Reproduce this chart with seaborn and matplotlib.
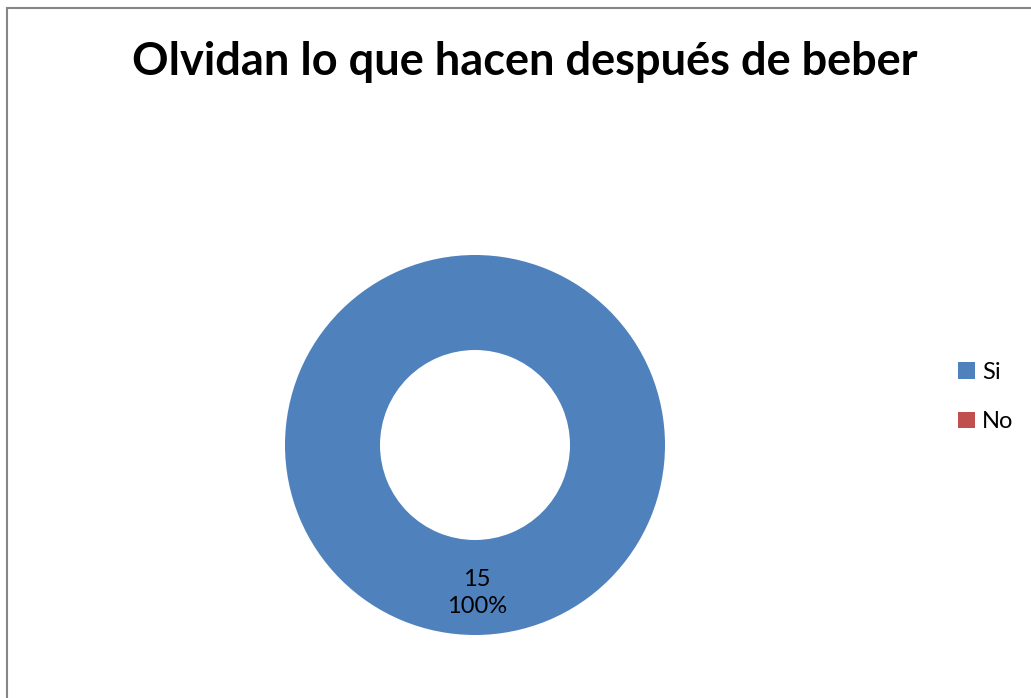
import matplotlib
matplotlib.use("Agg")
import matplotlib.pyplot as plt
import seaborn as sns
from matplotlib.patches import Rectangle

categories = ["Si", "No"]
values = [15, 0]
colors = ["#4F81BD", "#C0504D"]
title = "Olvidan lo que hacen después de beber"

sns.set_theme(style="white")
plt.rcParams['font.family'] = ['Lato', 'DejaVu Sans']
plt.rcParams['text.color'] = 'black'

W, H = 1031, 698
fig = plt.figure(figsize=(W/100, H/100), dpi=100)
fig.patch.set_facecolor("white")

# border
fig.add_artist(Rectangle((6.5/W, -0.1), 1.2, 1.1 - 8.5/H, transform=fig.transFigure,
                         fill=False, edgecolor="#868686", linewidth=1.5))

cx, cy, R = 475, 445, 190
ax = fig.add_axes([(cx-R)/W, 1-(cy+R)/H, 2*R/W, 2*R/H])
wedges, _ = ax.pie(values, colors=colors, startangle=90, counterclock=False,
                   radius=1.0, wedgeprops=dict(width=0.5, edgecolor="none"))
ax.set_xlim(-1, 1); ax.set_ylim(-1, 1); ax.set_aspect("equal"); ax.axis("off")

total = sum(values)
ax.text(2/R, -148/R, f"{values[0]}\n{values[0]/total:.0%}", ha="center", va="center",
        fontsize=17, color="black", linespacing=1.4)

fig.text(525/W, 1-62/H, title, ha="center", va="center", fontsize=32.5,
         fontweight="bold", color="black")

leg = fig.legend(wedges, categories, loc="center left", bbox_to_anchor=(937/W, 1-397/H),
                 frameon=False, fontsize=17, handlelength=0.7, handleheight=0.7,
                 handletextpad=0.3, labelspacing=1.2)
for t in leg.get_texts():
    t.set_color("black")

fig.savefig("out.png", dpi=100, facecolor="white")
